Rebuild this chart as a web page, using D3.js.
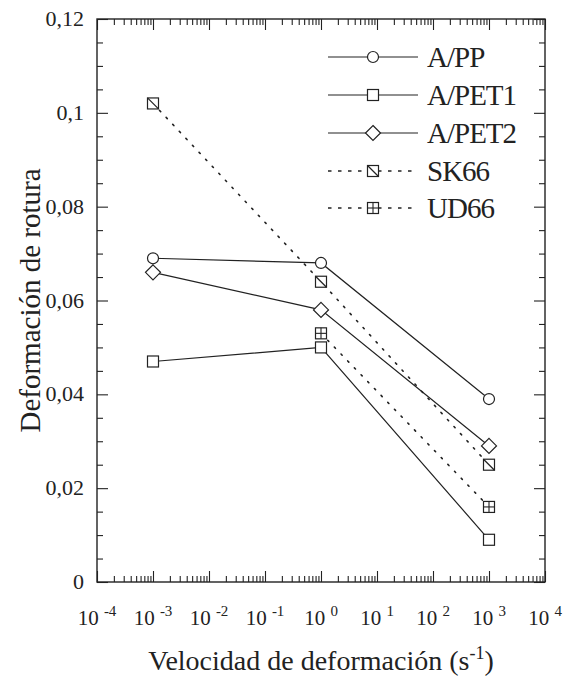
<!DOCTYPE html>
<html>
  <head>
    <meta charset="utf-8">
    <title>Deformación de rotura</title>
    <script src="https://d3js.org/d3.v7.min.js"></script>
  </head>
  <body style="margin:0">
    <svg id="plot" width="578" height="679"></svg>
    <script>

      // strain rates (s^-1) at which the samples were tested
      var rates = [1e-3, 1, 1e3];

      var seriesNames = ["A/PP", "A/PET1", "A/PET2", "SK66", "UD66"];
      var markerTypes = ["circle", "square", "diamond", "squareSlash", "squareCross"];
      var dashed = [false, false, false, true, true];

      var aPP = [0.069, 0.068, 0.039];
      var aPET1 = [0.047, 0.050, 0.009];
      var aPET2 = [0.066, 0.058, 0.029];
      var sk66 = [0.102, 0.064, 0.025];
      var ud66 = [null, 0.053, 0.016];

      var yTicks = [0, 0.02, 0.04, 0.06, 0.08, 0.1, 0.12];
      var yTickLabels = ["0", "0,02", "0,04", "0,06", "0,08", "0,1", "0,12"];
      var xExponents = [-4, -3, -2, -1, 0, 1, 2, 3, 4];

      var width = 578, height = 679;
      var margin = {top: 19, right: 33, bottom: 97, left: 97};
      var ink = "#222";
      var fontName = "Liberation Serif";

      var svg = d3.select("#plot");

      var x = d3.scaleLog()
        .domain([1e-4, 1e4])
        .range([margin.left, width - margin.right]);

      var y = d3.scaleLinear()
        .domain([0, 0.12])
        .range([height - margin.bottom, margin.top]);

      // minor ticks: 2..9 in every decade on x, every 0.005 on y
      var xMinor = [];
      xExponents.slice(0, -1).forEach(function (e) {
        for (var k = 2; k <= 9; k++) xMinor.push(k * Math.pow(10, e));
      });
      var yMinor = d3.range(0, 0.1201, 0.005).filter(function (v) {
        return Math.abs(v / 0.02 - Math.round(v / 0.02)) > 1e-6;
      });
      var xMajor = xExponents.map(function (e) { return Math.pow(10, e); });

      function styleAxis(g) {
        g.select(".domain").remove();
        g.selectAll("line").attr("stroke", ink).attr("stroke-width", 1.1);
        g.selectAll("text").remove();
      }

      function label(sel, size) {
        return sel
          .attr("font-family", fontName)
          .style("font-family", fontName)
          .style("font-size", size + "px")
          .attr("fill", ink);
      }

      var x0 = x.range()[0], x1 = x.range()[1];
      var y0 = y.range()[0], y1 = y.range()[1];

      // inward ticks on all four sides
      [[y0, d3.axisTop], [y1, d3.axisBottom]].forEach(function (a) {
        svg.append("g").attr("transform", "translate(0," + a[0] + ")")
          .call(a[1](x).tickValues(xMajor).tickSize(11).tickFormat(""))
          .call(styleAxis);
        svg.append("g").attr("transform", "translate(0," + a[0] + ")")
          .call(a[1](x).tickValues(xMinor).tickSize(6).tickFormat(""))
          .call(styleAxis);
      });
      [[x0, d3.axisRight], [x1, d3.axisLeft]].forEach(function (a) {
        svg.append("g").attr("transform", "translate(" + a[0] + ",0)")
          .call(a[1](y).tickValues(yTicks).tickSize(11).tickFormat(""))
          .call(styleAxis);
        svg.append("g").attr("transform", "translate(" + a[0] + ",0)")
          .call(a[1](y).tickValues(yMinor).tickSize(6).tickFormat(""))
          .call(styleAxis);
      });

      svg.append("rect")
        .attr("x", x0).attr("y", y1)
        .attr("width", x1 - x0).attr("height", y0 - y1)
        .attr("fill", "none").attr("stroke", ink).attr("stroke-width", 1.4);

      // y tick labels
      svg.selectAll(".ylab").data(yTicks).enter().append("text")
        .attr("class", "ylab")
        .attr("x", x0 - 13)
        .attr("y", function (d) { return y(d) + 7; })
        .attr("text-anchor", "end")
        .call(label, 22)
        .text(function (d, i) { return yTickLabels[i]; });

      // x tick labels 10^n
      var xl = svg.selectAll(".xlab").data(xExponents).enter().append("text")
        .attr("class", "xlab")
        .attr("x", function (d) { return x(Math.pow(10, d)); })
        .attr("y", y0 + 43)
        .attr("text-anchor", "middle")
        .call(label, 21);
      xl.append("tspan").text("10 ");
      xl.append("tspan")
        .attr("dy", -9)
        .style("font-size", "15px")
        .text(function (d) { return d; });

      // axis titles
      var xt = svg.append("text")
        .attr("x", (x0 + x1) / 2)
        .attr("y", 670)
        .attr("text-anchor", "middle")
        .call(label, 28)
        .text("Velocidad de deformación (s");
      xt.append("tspan").attr("dy", -11).style("font-size", "18px").text("-1");
      xt.append("tspan").attr("dy", 11).text(")");

      svg.append("text")
        .attr("transform", "translate(40," + ((y0 + y1) / 2) + ") rotate(-90)")
        .attr("text-anchor", "middle")
        .call(label, 29)
        .text("Deformación de rotura");

      function drawMarker(g, type, cx, cy) {
        var s = 5.5;
        function apply(el) {
          return el.attr("fill", "#fff").attr("stroke", ink).attr("stroke-width", 1.2);
        }
        if (type === "circle") {
          apply(g.append("circle").attr("cx", cx).attr("cy", cy).attr("r", s));
        } else if (type === "diamond") {
          var r = 7.5;
          apply(g.append("path").attr("d",
            "M" + cx + "," + (cy - r) + "L" + (cx + r) + "," + cy +
            "L" + cx + "," + (cy + r) + "L" + (cx - r) + "," + cy + "Z"));
        } else {
          apply(g.append("rect").attr("x", cx - s).attr("y", cy - s)
            .attr("width", 2 * s).attr("height", 2 * s));
          if (type === "squareSlash") {
            g.append("line").attr("x1", cx - s).attr("y1", cy - s)
              .attr("x2", cx + s).attr("y2", cy + s)
              .attr("stroke", ink).attr("stroke-width", 1.2);
          } else if (type === "squareCross") {
            g.append("line").attr("x1", cx - s).attr("y1", cy)
              .attr("x2", cx + s).attr("y2", cy)
              .attr("stroke", ink).attr("stroke-width", 1.1);
            g.append("line").attr("x1", cx).attr("y1", cy - s)
              .attr("x2", cx).attr("y2", cy + s)
              .attr("stroke", ink).attr("stroke-width", 1.1);
          }
        }
      }

      var allValues = [aPP, aPET1, aPET2, sk66, ud66];

      var line = d3.line()
        .defined(function (d) { return d.v !== null; })
        .x(function (d) { return x(d.r); })
        .y(function (d) { return y(d.v); });

      var series = allValues.map(function (vals, i) {
        return {
          name: seriesNames[i],
          marker: markerTypes[i],
          dashed: dashed[i],
          points: vals.map(function (v, j) { return {r: rates[j], v: v}; })
        };
      });

      // lines first, then markers on top
      series.forEach(function (s) {
        svg.append("path")
          .datum(s.points)
          .attr("d", line)
          .attr("fill", "none")
          .attr("stroke", ink)
          .attr("stroke-width", s.dashed ? 1.6 : 1.2)
          .attr("stroke-dasharray", s.dashed ? "1.6,8" : null)
          .attr("stroke-linecap", "round");
      });
      series.forEach(function (s) {
        var g = svg.append("g");
        s.points.forEach(function (p) {
          if (p.v !== null) drawMarker(g, s.marker, x(p.r), y(p.v));
        });
      });

      // legend
      var legendY = [57, 95, 133, 171, 208];
      series.forEach(function (s, i) {
        var g = svg.append("g").attr("transform", "translate(328," + legendY[i] + ")");
        g.append("line")
          .attr("x1", 0).attr("x2", 90)
          .attr("stroke", ink)
          .attr("stroke-width", s.dashed ? 1.4 : 1.2)
          .attr("stroke-dasharray", s.dashed ? "3.5,6.5" : null);
        drawMarker(g, s.marker, 45, 0);
        g.append("text")
          .attr("x", 99)
          .attr("y", 10)
          .call(label, 29)
          .style("letter-spacing", "-1px")
          .text(s.name);
      });

    </script>
  </body>
</html>
